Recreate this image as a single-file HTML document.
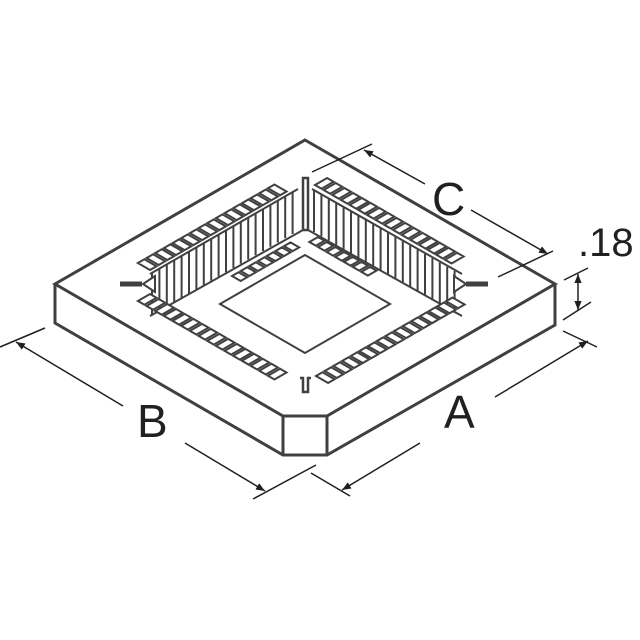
<!DOCTYPE html>
<html><head><meta charset="utf-8"><style>
html,body{margin:0;padding:0;background:#fff;width:640px;height:640px;overflow:hidden}
svg{display:block}
text{font-family:"Liberation Sans",sans-serif;fill:#231f20}
</style></head><body>
<svg width="640" height="640" viewBox="0 0 640 640" xmlns="http://www.w3.org/2000/svg">
<defs>
<marker id="ar" viewBox="0 0 10 10" refX="10" refY="5" markerWidth="9" markerHeight="9" markerUnits="userSpaceOnUse" orient="auto-start-reverse">
<path d="M0,1 L10,5 L0,9 z" fill="#231f20"/></marker>
</defs>
<g fill="none" stroke="#404040" stroke-width="3">
<path d="M305,140 L555,284 L327,416 L283,416 L55,284 Z"/>
<path d="M55,284 L55,323 L283,455 L327,455 L555,325 L555,284"/>
<path d="M283,416 L283,455 M327,416 L327,455"/>
</g>
<g fill="#fff" stroke="#404040" stroke-width="2">
<path fill="none" d="M305,255 L220,304 L305,353 L390,304 Z"/>
<!-- walls -->
<path d="M152,272.85 l0,42 m7.4,-46.255 l0,42 m7.4,-46.255 l0,42 m7.4,-46.255 l0,42 m7.4,-46.255 l0,42 m7.4,-46.255 l0,42 m7.4,-46.255 l0,42 m7.4,-46.255 l0,42 m7.4,-46.255 l0,42 m7.4,-46.255 l0,42 m7.4,-46.255 l0,42 m7.4,-46.255 l0,42 m7.4,-46.255 l0,42 m7.4,-46.255 l0,42 m7.4,-46.255 l0,42 m7.4,-46.255 l0,42 m7.4,-46.255 l0,42 m7.4,-46.255 l0,42 m7.4,-46.255 l0,42 m7.4,-46.255 l0,42"/>
<path d="M314,190.15 l0,42 m7.4,-37.745 l0,42 m7.4,-37.745 l0,42 m7.4,-37.745 l0,42 m7.4,-37.745 l0,42 m7.4,-37.745 l0,42 m7.4,-37.745 l0,42 m7.4,-37.745 l0,42 m7.4,-37.745 l0,42 m7.4,-37.745 l0,42 m7.4,-37.745 l0,42 m7.4,-37.745 l0,42 m7.4,-37.745 l0,42 m7.4,-37.745 l0,42 m7.4,-37.745 l0,42 m7.4,-37.745 l0,42 m7.4,-37.745 l0,42 m7.4,-37.745 l0,42 m7.4,-37.745 l0,42 m7.4,-37.745 l0,42"/>
<path fill="none" d="M150,274 L298,189 M312,189 L462,274 M150,316 L303,230 M308,230 L462,316"/>
<!-- back-left pads -->
<path d="M150,270 l6.5,-3.74 l-12.1,-6.98 l-6.5,3.74 z m8.67,-4.985 l6.5,-3.74 l-12.1,-6.98 l-6.5,3.74 z m8.67,-4.985 l6.5,-3.74 l-12.1,-6.98 l-6.5,3.74 z m8.67,-4.985 l6.5,-3.74 l-12.1,-6.98 l-6.5,3.74 z m8.67,-4.985 l6.5,-3.74 l-12.1,-6.98 l-6.5,3.74 z m8.67,-4.985 l6.5,-3.74 l-12.1,-6.98 l-6.5,3.74 z m8.67,-4.985 l6.5,-3.74 l-12.1,-6.98 l-6.5,3.74 z m8.67,-4.985 l6.5,-3.74 l-12.1,-6.98 l-6.5,3.74 z m8.67,-4.985 l6.5,-3.74 l-12.1,-6.98 l-6.5,3.74 z m8.67,-4.985 l6.5,-3.74 l-12.1,-6.98 l-6.5,3.74 z m8.67,-4.985 l6.5,-3.74 l-12.1,-6.98 l-6.5,3.74 z m8.67,-4.985 l6.5,-3.74 l-12.1,-6.98 l-6.5,3.74 z m8.67,-4.985 l6.5,-3.74 l-12.1,-6.98 l-6.5,3.74 z m8.67,-4.985 l6.5,-3.74 l-12.1,-6.98 l-6.5,3.74 z m8.67,-4.985 l6.5,-3.74 l-12.1,-6.98 l-6.5,3.74 z m8.67,-4.985 l6.5,-3.74 l-12.1,-6.98 l-6.5,3.74 z"/>
<!-- back-right pads -->
<path d="M315,185 l6.5,3.74 l12.1,-6.98 l-6.5,-3.74 z m8.67,4.985 l6.5,3.74 l12.1,-6.98 l-6.5,-3.74 z m8.67,4.985 l6.5,3.74 l12.1,-6.98 l-6.5,-3.74 z m8.67,4.985 l6.5,3.74 l12.1,-6.98 l-6.5,-3.74 z m8.67,4.985 l6.5,3.74 l12.1,-6.98 l-6.5,-3.74 z m8.67,4.985 l6.5,3.74 l12.1,-6.98 l-6.5,-3.74 z m8.67,4.985 l6.5,3.74 l12.1,-6.98 l-6.5,-3.74 z m8.67,4.985 l6.5,3.74 l12.1,-6.98 l-6.5,-3.74 z m8.67,4.985 l6.5,3.74 l12.1,-6.98 l-6.5,-3.74 z m8.67,4.985 l6.5,3.74 l12.1,-6.98 l-6.5,-3.74 z m8.67,4.985 l6.5,3.74 l12.1,-6.98 l-6.5,-3.74 z m8.67,4.985 l6.5,3.74 l12.1,-6.98 l-6.5,-3.74 z m8.67,4.985 l6.5,3.74 l12.1,-6.98 l-6.5,-3.74 z m8.67,4.985 l6.5,3.74 l12.1,-6.98 l-6.5,-3.74 z m8.67,4.985 l6.5,3.74 l12.1,-6.98 l-6.5,-3.74 z m8.67,4.985 l6.5,3.74 l12.1,-6.98 l-6.5,-3.74 z"/>
<!-- front-left pads -->
<path d="M150,294 l6.5,3.74 l-12.1,6.98 l-6.5,-3.74 z m8.67,4.985 l6.5,3.74 l-12.1,6.98 l-6.5,-3.74 z m8.67,4.985 l6.5,3.74 l-12.1,6.98 l-6.5,-3.74 z m8.67,4.985 l6.5,3.74 l-12.1,6.98 l-6.5,-3.74 z m8.67,4.985 l6.5,3.74 l-12.1,6.98 l-6.5,-3.74 z m8.67,4.985 l6.5,3.74 l-12.1,6.98 l-6.5,-3.74 z m8.67,4.985 l6.5,3.74 l-12.1,6.98 l-6.5,-3.74 z m8.67,4.985 l6.5,3.74 l-12.1,6.98 l-6.5,-3.74 z m8.67,4.985 l6.5,3.74 l-12.1,6.98 l-6.5,-3.74 z m8.67,4.985 l6.5,3.74 l-12.1,6.98 l-6.5,-3.74 z m8.67,4.985 l6.5,3.74 l-12.1,6.98 l-6.5,-3.74 z m8.67,4.985 l6.5,3.74 l-12.1,6.98 l-6.5,-3.74 z m8.67,4.985 l6.5,3.74 l-12.1,6.98 l-6.5,-3.74 z m8.67,4.985 l6.5,3.74 l-12.1,6.98 l-6.5,-3.74 z m8.67,4.985 l6.5,3.74 l-12.1,6.98 l-6.5,-3.74 z m8.67,4.985 l6.5,3.74 l-12.1,6.98 l-6.5,-3.74 z"/>
<!-- front-right pads -->
<path d="M316,376 l6.5,-3.74 l12.1,6.98 l-6.5,3.74 z m8.67,-4.985 l6.5,-3.74 l12.1,6.98 l-6.5,3.74 z m8.67,-4.985 l6.5,-3.74 l12.1,6.98 l-6.5,3.74 z m8.67,-4.985 l6.5,-3.74 l12.1,6.98 l-6.5,3.74 z m8.67,-4.985 l6.5,-3.74 l12.1,6.98 l-6.5,3.74 z m8.67,-4.985 l6.5,-3.74 l12.1,6.98 l-6.5,3.74 z m8.67,-4.985 l6.5,-3.74 l12.1,6.98 l-6.5,3.74 z m8.67,-4.985 l6.5,-3.74 l12.1,6.98 l-6.5,3.74 z m8.67,-4.985 l6.5,-3.74 l12.1,6.98 l-6.5,3.74 z m8.67,-4.985 l6.5,-3.74 l12.1,6.98 l-6.5,3.74 z m8.67,-4.985 l6.5,-3.74 l12.1,6.98 l-6.5,3.74 z m8.67,-4.985 l6.5,-3.74 l12.1,6.98 l-6.5,3.74 z m8.67,-4.985 l6.5,-3.74 l12.1,6.98 l-6.5,3.74 z m8.67,-4.985 l6.5,-3.74 l12.1,6.98 l-6.5,3.74 z m8.67,-4.985 l6.5,-3.74 l12.1,6.98 l-6.5,3.74 z m8.67,-4.985 l6.5,-3.74 l12.1,6.98 l-6.5,3.74 z"/>
<!-- inner floor pads near back walls -->
<path d="M232,276 l6.5,-3.74 l8.67,4.985 l-6.5,3.74 z m8.67,-4.985 l6.5,-3.74 l8.67,4.985 l-6.5,3.74 z m8.67,-4.985 l6.5,-3.74 l8.67,4.985 l-6.5,3.74 z m8.67,-4.985 l6.5,-3.74 l8.67,4.985 l-6.5,3.74 z m8.67,-4.985 l6.5,-3.74 l8.67,4.985 l-6.5,3.74 z m8.67,-4.985 l6.5,-3.74 l8.67,4.985 l-6.5,3.74 z m8.67,-4.985 l6.5,-3.74 l8.67,4.985 l-6.5,3.74 z"/>
<path d="M318,237 l6.5,3.74 l-8.67,4.985 l-6.5,-3.74 z m8.67,4.985 l6.5,3.74 l-8.67,4.985 l-6.5,-3.74 z m8.67,4.985 l6.5,3.74 l-8.67,4.985 l-6.5,-3.74 z m8.67,4.985 l6.5,3.74 l-8.67,4.985 l-6.5,-3.74 z m8.67,4.985 l6.5,3.74 l-8.67,4.985 l-6.5,-3.74 z m8.67,4.985 l6.5,3.74 l-8.67,4.985 l-6.5,-3.74 z m8.67,4.985 l6.5,3.74 l-8.67,4.985 l-6.5,-3.74 z"/>
<path d="M143,284 L155,276 L155,292 Z M466,284 L454,276 L454,292 Z"/>
</g>
<g fill="#fff" stroke="#404040" stroke-width="2.5">
<path d="M303,178 L308,178 L308,230 L303,230 Z"/>
<path fill="none" d="M300,378 L303,378 L303,392 L308,392 L308,378 L311,378"/>
</g>
<g stroke="#404040" stroke-width="5">
<line x1="120" y1="284" x2="142" y2="284"/>
<line x1="466" y1="284" x2="488" y2="284"/>
</g>
<g stroke="#231f20" stroke-width="1.5" fill="none">
<line x1="312" y1="172" x2="372" y2="144"/>
<line x1="498" y1="277" x2="553" y2="251"/>
<line x1="364" y1="150" x2="425" y2="184" marker-start="url(#ar)"/>
<line x1="471" y1="210" x2="548" y2="254" marker-end="url(#ar)"/>
<line x1="564" y1="280" x2="588" y2="268"/>
<line x1="563" y1="320" x2="591" y2="302"/>
<line x1="578" y1="274" x2="578" y2="310" marker-start="url(#ar)" marker-end="url(#ar)"/>
<line x1="563" y1="331" x2="597" y2="347"/>
<line x1="311" y1="473" x2="350" y2="496"/>
<line x1="342" y1="490" x2="420" y2="443" marker-start="url(#ar)"/>
<line x1="495" y1="397" x2="588" y2="341" marker-end="url(#ar)"/>
<line x1="0" y1="347" x2="45" y2="328"/>
<line x1="253" y1="499" x2="316" y2="465"/>
<line x1="16" y1="342" x2="123" y2="406" marker-start="url(#ar)"/>
<line x1="185" y1="443" x2="265" y2="491" marker-end="url(#ar)"/>
</g>
<text x="432" y="215" font-size="46">C</text>
<text x="578" y="256" font-size="40">.18</text>
<text x="444" y="428" font-size="46">A</text>
<text x="137" y="437" font-size="46">B</text>
</svg>
</body></html>
